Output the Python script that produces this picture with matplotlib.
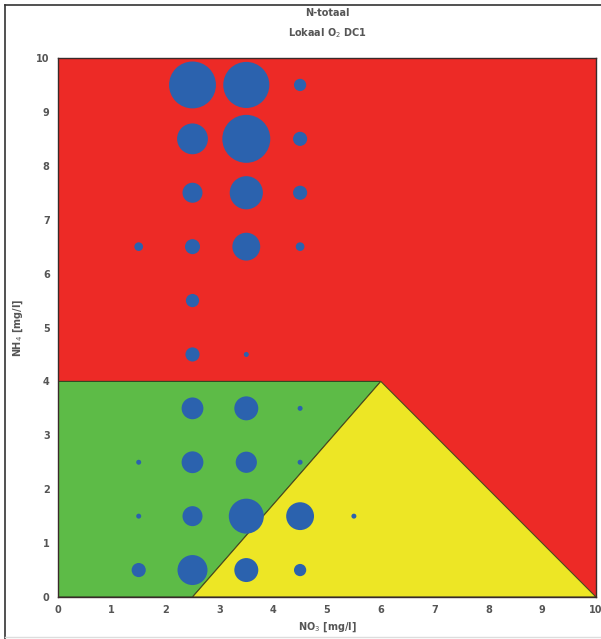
import numpy as np
import matplotlib
matplotlib.use("Agg")
import matplotlib.pyplot as plt
from matplotlib.patches import Polygon
from matplotlib.lines import Line2D

# --- zone boundaries (NO3, NH4) ---
green_zone = [(0, 0), (0, 4), (6, 4), (2.5, 0)]
yellow_zone = [(2.5, 0), (6, 4), (10, 0)]

# --- bubble data: NO3 class centre, NH4 class centre, count ---
no3 = [2.5, 3.5, 4.5,
       2.5, 3.5, 4.5,
       2.5, 3.5, 4.5,
       1.5, 2.5, 3.5, 4.5,
       2.5,
       2.5, 3.5,
       2.5, 3.5, 4.5,
       1.5, 2.5, 3.5, 4.5,
       1.5, 2.5, 3.5, 4.5, 5.5,
       1.5, 2.5, 3.5, 4.5]
nh4 = [9.5, 9.5, 9.5,
       8.5, 8.5, 8.5,
       7.5, 7.5, 7.5,
       6.5, 6.5, 6.5, 6.5,
       5.5,
       4.5, 4.5,
       3.5, 3.5, 3.5,
       2.5, 2.5, 2.5, 2.5,
       1.5, 1.5, 1.5, 1.5, 1.5,
       0.5, 0.5, 0.5, 0.5]
counts = [88, 85, 6,
          38, 92, 8,
          16, 44, 8,
          3, 9, 31, 3,
          7,
          8, 1,
          19, 23, 1,
          1, 19, 18, 1,
          1, 16, 49, 31, 1,
          8, 36, 23, 6]

RED = "#ED2A26"
GREEN = "#5DBB47"
YELLOW = "#EDE625"
BLUE = "#2B62AE"
TXT = "#555555"

fig = plt.figure(figsize=(6.01, 6.39), dpi=100)
ax = fig.add_axes([58 / 601, 1 - 597 / 639, 538 / 601, 539 / 639])

ax.set_facecolor(RED)
ax.add_patch(Polygon(green_zone, closed=True, facecolor=GREEN,
                     edgecolor="#2d4a22", linewidth=0.8, zorder=1))
ax.add_patch(Polygon(yellow_zone, closed=True, facecolor=YELLOW,
                     edgecolor="#4a4a20", linewidth=0.8, zorder=1))

# bubble diameter ~ 5 px * sqrt(count); 1 px = 0.72 pt
sizes = [(5 * np.sqrt(c) * 0.72) ** 2 for c in counts]
ax.scatter(no3, nh4, s=sizes, color=BLUE, edgecolors="none", zorder=3)

ax.set_xlim(0, 10)
ax.set_ylim(0, 10)
ax.set_xticks(range(0, 11))
ax.set_yticks(range(0, 11))
ax.tick_params(length=0, pad=6, labelsize=7, colors=TXT)
for lab in ax.get_xticklabels() + ax.get_yticklabels():
    lab.set_fontweight("bold")
for sp in ax.spines.values():
    sp.set_color("#3a2a2a")
    sp.set_linewidth(1.0)

ax.set_xlabel("NO$_3$ [mg/l]", fontsize=7, color=TXT, fontweight="bold", labelpad=4)
ax.set_ylabel("NH$_4$ [mg/l]", fontsize=7, color=TXT, fontweight="bold", labelpad=8)

fig.text(0.545, 1 - 13 / 639, "N-totaal", ha="center", va="center",
         fontsize=7, color=TXT, fontweight="bold")
fig.text(0.545, 1 - 33 / 639, "Lokaal O$_2$ DC1", ha="center", va="center",
         fontsize=7, color=TXT, fontweight="bold")

# outer frame
fig.add_artist(Line2D([5 / 601, 1], [1 - 5 / 639, 1 - 5 / 639],
                      transform=fig.transFigure, color="#333333", lw=1.2))
fig.add_artist(Line2D([5 / 601, 5 / 601], [0, 1 - 5 / 639],
                      transform=fig.transFigure, color="#333333", lw=1.2))
fig.add_artist(Line2D([5 / 601, 1], [2 / 639, 2 / 639],
                      transform=fig.transFigure, color="#dddddd", lw=1.0))

fig.savefig("out.png", dpi=100)
